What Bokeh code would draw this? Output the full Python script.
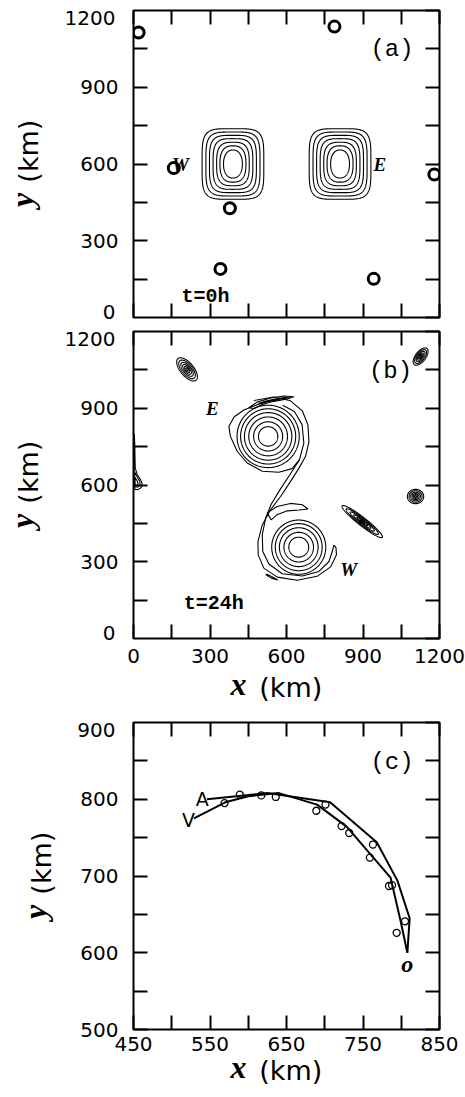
import numpy as np
from bokeh.plotting import figure
from bokeh.layouts import column
from bokeh.models import Range1d, FixedTicker, LinearAxis, Label
from bokeh.embed import file_html
from bokeh.resources import INLINE

# ---------------- data ----------------
# (a) t = 0 h : two vortices and passive circles
a_vortex_x = [390, 810]
a_vortex_y = [600, 600]
a_ring_rx = [121, 106, 92, 78, 64, 51, 37]
a_ring_ry = [138, 125, 112, 99, 85, 71, 55]
a_ring_power = [4.6, 4.3, 4.0, 3.6, 3.1, 2.6, 2.2]
a_circle_x = [20, 788, 158, 378, 341, 942, 1180]
a_circle_y = [1114, 1137, 584, 427, 190, 151, 559]

# (b) t = 24 h
b_E_x, b_E_y = 528, 790
b_W_x, b_W_y = 648, 357
b_E_r = [38, 57, 76, 93, 108, 122]
b_W_r = [39, 58, 76, 92, 106]
b_sat_x = [210, 1126, 1106, 897]
b_sat_y = [1052, 1102, 555, 457]
b_sat_a = [55, 40, 32, 100]
b_sat_b = [26, 20, 28, 16]
b_sat_angle = [-50, 52, 0, -38]
b_sat_scale = [1.0, 0.8, 0.6, 0.42, 0.26, 0.12]
# outer S-shaped contours
b_c1_x = [472, 550, 616, 662, 684, 688, 675, 649, 616, 577, 537, 505, 488, 489, 511, 564, 642, 720, 773, 796, 794, 786]
b_c1_y = [930, 944, 929, 890, 835, 770, 712, 666, 614, 555, 503, 444, 379, 327, 275, 240, 228, 243, 280, 327, 355, 365]
b_c2_x = [585, 631, 661, 668, 651, 613, 574, 540, 518, 505, 507, 531, 583, 662, 727, 766, 779, 786]
b_c2_y = [912, 887, 836, 764, 699, 640, 581, 525, 470, 405, 340, 291, 253, 244, 262, 300, 338, 365]
# E outer contour with the western bump
b_c3_x = [560, 520, 485, 433, 394, 374, 380, 407, 446, 505, 570, 622, 651]
b_c3_y = [930, 928, 914, 893, 866, 829, 790, 731, 686, 654, 650, 664, 699]
# thin tongues
b_tE_x = [452, 485, 537, 590, 629, 603, 550, 505, 472, 452]
b_tE_y = [902, 924, 940, 948, 945, 936, 927, 915, 899, 902]
b_tE2_x = [490, 540, 590, 615, 585, 540, 500, 490]
b_tE2_y = [918, 933, 942, 941, 937, 929, 918, 918]
b_tW_x = [524, 563, 616, 662, 684, 649, 603, 563, 540, 524]
b_tW_y = [490, 516, 528, 523, 506, 502, 499, 484, 464, 490]
b_wisp_x = [518, 540, 566, 545, 522]
b_wisp_y = [250, 236, 229, 240, 252]
# plume at the western edge
b_plume_x = [3, 5, 6, 7, 15, 28, 34, 30, 18, 6, 2, 2, 2, 3]
b_plume_y = [800, 760, 700, 665, 640, 620, 605, 590, 582, 583, 600, 700, 760, 800]
b_plume2_x = [5, 14, 24, 26, 18, 8, 4, 5]
b_plume2_y = [650, 632, 615, 603, 592, 592, 610, 650]
b_plume3_x = [6, 15, 18, 12, 6, 6]
b_plume3_y = [630, 615, 604, 597, 600, 630]

# (c) tracks
c_A_x = [546, 625, 707, 768, 795, 811, 808]
c_A_y = [800, 808, 796, 744, 694, 645, 600]
c_V_x = [529, 570, 600, 640, 690, 729, 786, 799, 808]
c_V_y = [775, 796, 804, 808, 793, 764, 698, 642, 600]
c_pt_x = [569, 589, 617, 636, 689, 701, 722, 732, 759, 763, 784, 788, 794, 805]
c_pt_y = [795, 806, 805, 803, 785, 793, 765, 756, 724, 741, 687, 688, 626, 641]

# ticks and tick labels
ab_major = [0, 300, 600, 900, 1200]
ab_inner = [300, 600, 900]
ab_minor = [150, 450, 750, 1050]
ab_end_pos = [22, 1171]            # end labels sit just inside the frame
ab_end_text = ["0", "1200"]
c_x_major = [450, 550, 650, 750, 850]
c_x_minor = [500, 600, 700, 800]
c_y_major = [500, 600, 700, 800, 900]
c_y_inner = [500, 600, 700, 800]
c_y_minor = [550, 650, 750, 850]
c_end_pos = [890]
c_end_text = ["900"]

TICK_FONT = "DejaVu Sans"
SYM_FONT = "Liberation Serif"
LW = 1.1
NB = "\u00a0"


def ring_xy(cx, cy, rx, ry, n=2.0, ang=0.0, m=240):
    t = np.linspace(0, 2 * np.pi, m)
    c, s = np.cos(t), np.sin(t)
    u = rx * np.sign(c) * np.abs(c) ** (2.0 / n)
    v = ry * np.sign(s) * np.abs(s) ** (2.0 / n)
    a = np.deg2rad(ang)
    return list(cx + u * np.cos(a) - v * np.sin(a)), list(cy + u * np.sin(a) + v * np.cos(a))


def style_axis(ax):
    ax.axis_line_color = None
    ax.major_tick_in = 14
    ax.major_tick_out = 0
    ax.minor_tick_in = 14
    ax.minor_tick_out = 0
    ax.major_tick_line_width = 2
    ax.minor_tick_line_width = 2
    ax.major_label_text_font = TICK_FONT
    ax.major_label_text_font_size = "20px"
    ax.major_label_text_color = "black"


def bare_axis():
    ax = LinearAxis(ticker=FixedTicker(ticks=[], minor_ticks=[]))
    ax.axis_line_color = None
    ax.major_tick_in = 0
    ax.major_tick_out = 0
    ax.minor_tick_in = 0
    ax.minor_tick_out = 0
    ax.major_label_standoff = 0
    return ax


def make_fig(xr, yr, xmaj, xmin, ymaj, ymin, y_lab, end_pos, end_text,
             top, bottom, x_standoff):
    p = figure(frame_width=306, frame_height=307,
               x_range=Range1d(*xr), y_range=Range1d(*yr),
               output_backend="svg", toolbar_location=None,
               x_axis_type=None, y_axis_type=None,
               min_border_left=133, min_border_right=26,
               min_border_top=top, min_border_bottom=bottom,
               outline_line_color="black", outline_line_width=2,
               background_fill_color="white", border_fill_color="white")
    axes = {}
    for loc in ["below", "left", "above", "right"]:
        horiz = loc in ("below", "above")
        if loc == "left":
            tk = FixedTicker(ticks=y_lab, minor_ticks=ymin)
        else:
            tk = FixedTicker(ticks=xmaj if horiz else ymaj,
                             minor_ticks=xmin if horiz else ymin)
        ax = LinearAxis(ticker=tk)
        style_axis(ax)
        if loc == "left":
            ax.major_label_standoff = 15
        elif loc == "below" and x_standoff is not None:
            ax.major_label_standoff = x_standoff
        else:
            ax.major_label_standoff = 0
            ax.major_label_text_font_size = "1px"
            ax.major_label_text_color = None
        p.add_layout(ax, loc)
        axes[loc] = ax
    # end labels of the y axis, set slightly inside the frame
    ax_end = bare_axis()
    ax_end.ticker = FixedTicker(ticks=end_pos, minor_ticks=[])
    ax_end.major_label_overrides = dict(zip(end_pos, end_text))
    ax_end.major_label_text_font = TICK_FONT
    ax_end.major_label_text_font_size = "20px"
    ax_end.major_label_text_color = "black"
    ax_end.major_label_standoff = -38
    p.add_layout(ax_end, "left")
    return p, axes


def text_axis(p, loc, text, font, style, size, standoff):
    ax = bare_axis()
    ax.axis_label = text
    ax.axis_label_text_font = font
    ax.axis_label_text_font_style = style
    ax.axis_label_text_font_size = size
    ax.axis_label_text_color = "black"
    ax.axis_label_standoff = standoff
    p.add_layout(ax, loc)


def y_title(p):
    text_axis(p, "left", "y" + NB * 9, SYM_FONT, "bold italic", "32px", 22)
    text_axis(p, "left", NB * 3 + "(km)", "DejaVu Sans", "normal", "27px", -43)


def x_title(p, ax, s1, s2):
    ax.axis_label = "x" + NB * 12
    ax.axis_label_text_font = SYM_FONT
    ax.axis_label_text_font_style = "bold italic"
    ax.axis_label_text_font_size = "32px"
    ax.axis_label_text_color = "black"
    ax.axis_label_standoff = s1
    text_axis(p, "below", NB + "(km)", "DejaVu Sans", "normal", "27px", s2)


def add_text(p, x, y, text, font, size, style="normal", align="center",
             baseline="middle"):
    p.add_layout(Label(x=x, y=y, text=text, text_font=font, text_font_size=size,
                       text_font_style=style, text_align=align,
                       text_baseline=baseline, text_color="black"))


# ---------------- panel (a) ----------------
pa, axa = make_fig((0, 1200), (0, 1200), ab_major, ab_minor, ab_major, ab_minor,
                   ab_inner, ab_end_pos, ab_end_text, 10, 7, None)
xs, ys = [], []
for cx, cy in zip(a_vortex_x, a_vortex_y):
    for rx, ry, n in zip(a_ring_rx, a_ring_ry, a_ring_power):
        u, v = ring_xy(cx, cy, rx, ry, n)
        xs.append(u)
        ys.append(v)
pa.multi_line(xs, ys, line_color="black", line_width=LW)
pa.scatter(a_circle_x, a_circle_y, marker="circle", size=11, fill_color=None,
           line_color="black", line_width=3)
add_text(pa, 1014, 1048, "(a)", "Liberation Mono", "24px")
add_text(pa, 282, 83, "t=0h", "Liberation Mono", "20px", "bold")
add_text(pa, 184, 598, "W", SYM_FONT, "19px", "bold italic")
add_text(pa, 966, 598, "E", SYM_FONT, "19px", "bold italic")
y_title(pa)

# ---------------- panel (b) ----------------
pb, axb = make_fig((0, 1200), (0, 1200), ab_major, ab_minor, ab_major, ab_minor,
                   ab_inner, ab_end_pos, ab_end_text, 7, 74, 10)
xs, ys = [], []
for r in b_E_r:
    u, v = ring_xy(b_E_x, b_E_y, r, r)
    xs.append(u)
    ys.append(v)
for r in b_W_r:
    u, v = ring_xy(b_W_x, b_W_y, r, r)
    xs.append(u)
    ys.append(v)
for sx, sy, sa, sb, ang in zip(b_sat_x, b_sat_y, b_sat_a, b_sat_b, b_sat_angle):
    for k in b_sat_scale:
        u, v = ring_xy(sx, sy, sa * k, sb * k, 2.0, ang)
        xs.append(u)
        ys.append(v)
xs += [b_c1_x, b_c2_x, b_c3_x, b_tE_x, b_tE2_x, b_tW_x, b_wisp_x,
       b_plume_x, b_plume2_x, b_plume3_x]
ys += [b_c1_y, b_c2_y, b_c3_y, b_tE_y, b_tE2_y, b_tW_y, b_wisp_y,
       b_plume_y, b_plume2_y, b_plume3_y]
pb.multi_line(xs, ys, line_color="black", line_width=LW)
add_text(pb, 1008, 1044, "(b)", "Liberation Mono", "24px")
add_text(pb, 315, 138, "t=24h", "Liberation Mono", "20px", "bold")
add_text(pb, 309, 898, "E", SYM_FONT, "19px", "bold italic")
add_text(pb, 844, 268, "W", SYM_FONT, "19px", "bold italic")
y_title(pb)
x_title(pb, axb["below"], 0, -33)

# ---------------- panel (c) ----------------
pc, axc = make_fig((450, 850), (500, 900), c_x_major, c_x_minor, c_y_major, c_y_minor,
                   c_y_inner, c_end_pos, c_end_text, 10, 68, 7)
pc.line(c_A_x, c_A_y, line_color="black", line_width=2)
pc.line(c_V_x, c_V_y, line_color="black", line_width=2)
pc.scatter(c_pt_x, c_pt_y, marker="circle", size=7, fill_color=None,
           line_color="black", line_width=1.3)
add_text(pc, 788, 848, "(c)", "Liberation Mono", "24px")
add_text(pc, 540, 800, "A", "DejaVu Sans", "19px")
add_text(pc, 522, 773, "V", "DejaVu Sans", "19px")
add_text(pc, 808, 585, "o", SYM_FONT, "24px", "bold italic")
y_title(pc)
x_title(pc, axc["below"], -5, -33)

layout = column(pa, pb, pc, spacing=0)
open("out.html", "w").write(file_html(layout, INLINE))
